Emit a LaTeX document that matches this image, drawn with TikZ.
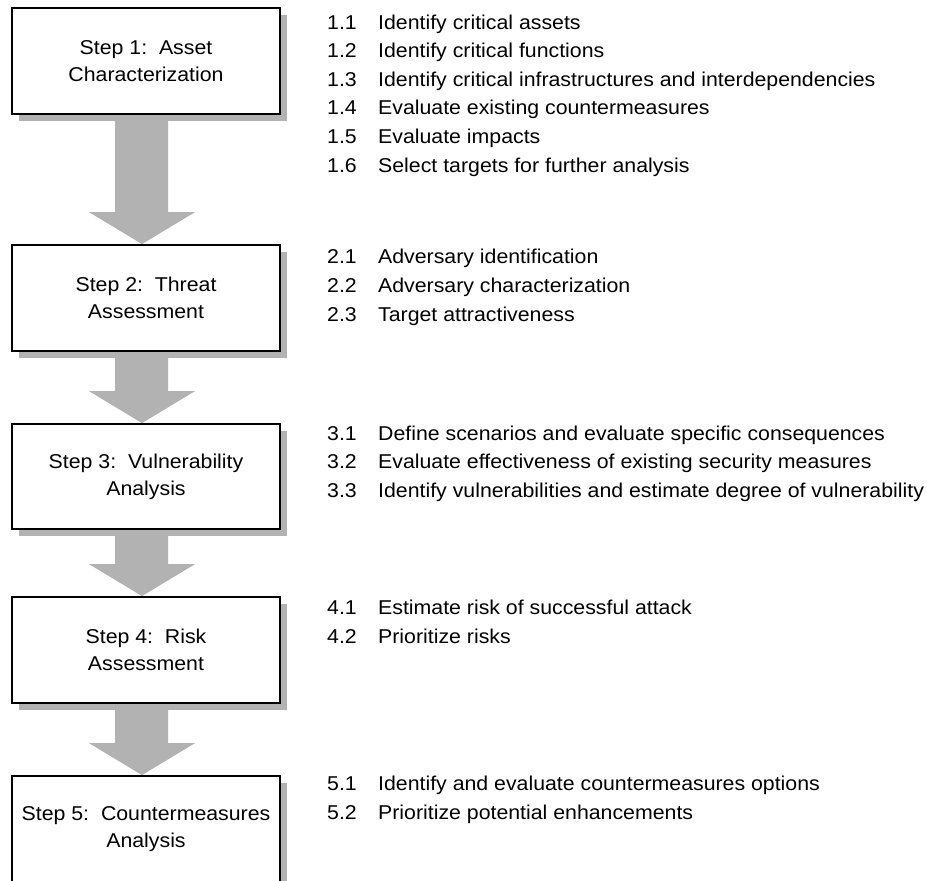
\documentclass[tikz,border=0pt]{standalone}
\usepackage{fontspec}
\setmainfont{Liberation Sans}[FakeStretch=1.065]
\usetikzlibrary{calc,shadows,backgrounds}
\definecolor{shade}{gray}{0.70}
\newcommand\flowarrow[2]{%
  \fill[flow] let \p1=(#1.south), \p2=(#2.north) in
    (\x1-31pt,\y1) -- (\x1+22pt,\y1) -- (\x1+22pt,\y2+32pt) -- (\x1+49pt,\y2+32pt)
    -- (\x1-4pt,\y2) -- (\x1-57pt,\y2+32pt) -- (\x1-31pt,\y2+32pt) -- cycle;}
\newcommand\itm[2]{\makebox[51pt][l]{#1}#2}
\begin{document}
\begin{tikzpicture}[x=1pt,y=-1pt,
  stepbox/.style={draw=black, line width=1.8pt, fill=white, minimum width=268pt,
    inner sep=0pt, align=center, font=\fontsize{20}{27}\selectfont,
    drop shadow={shadow xshift=7pt,shadow yshift=-7pt,fill=shade,opacity=1}},
  item/.style={anchor=base west, inner sep=0pt, font=\fontsize{20}{24}\selectfont, text=black},
  flow/.style={fill=shade}]
\useasboundingbox (0,0) rectangle (927,881);
\clip (0,0) rectangle (927,881);

\node[stepbox, minimum height=106pt] (s1) at (146,61) {Step 1:~~Asset\\Characterization};
\node[stepbox, minimum height=106pt] (s2) at (146,298) {Step 2:~~Threat\\Assessment};
\node[stepbox, minimum height=105pt] (s3) at (146,476.5) {Step 3:~~Vulnerability\\Analysis};
\node[stepbox, minimum height=106pt] (s4) at (146,650) {Step 4:~~Risk\\Assessment};
\node[stepbox, minimum height=106pt] (s5) at (146,829) {Step 5:~~Countermeasures\\Analysis};

\begin{scope}[on background layer]
\flowarrow{s1}{s2}
\flowarrow{s2}{s3}
\flowarrow{s3}{s4}
\flowarrow{s4}{s5}
\end{scope}

\node[item] (i11) at (327,29)    {\itm{1.1}{Identify critical assets}};
\node[item] (i12) at (327,57.6)  {\itm{1.2}{Identify critical functions}};
\node[item] (i13) at (327,86.2)  {\itm{1.3}{Identify critical infrastructures and interdependencies}};
\node[item] (i14) at (327,114.8) {\itm{1.4}{Evaluate existing countermeasures}};
\node[item] (i15) at (327,143.4) {\itm{1.5}{Evaluate impacts}};
\node[item] (i16) at (327,172)   {\itm{1.6}{Select targets for further analysis}};

\node[item] (i21) at (327,263) {\itm{2.1}{Adversary identification}};
\node[item] (i22) at (327,292) {\itm{2.2}{Adversary characterization}};
\node[item] (i23) at (327,321) {\itm{2.3}{Target attractiveness}};

\node[item] (i31) at (327,440)   {\itm{3.1}{Define scenarios and evaluate specific consequences}};
\node[item] (i32) at (327,468.6) {\itm{3.2}{Evaluate effectiveness of existing security measures}};
\node[item] (i33) at (327,497.2) {\itm{3.3}{Identify vulnerabilities and estimate degree of vulnerability}};

\node[item] (i41) at (327,614) {\itm{4.1}{Estimate risk of successful attack}};
\node[item] (i42) at (327,643) {\itm{4.2}{Prioritize risks}};

\node[item] (i51) at (327,790) {\itm{5.1}{Identify and evaluate countermeasures options}};
\node[item] (i52) at (327,819) {\itm{5.2}{Prioritize potential enhancements}};
\end{tikzpicture}
\end{document}
